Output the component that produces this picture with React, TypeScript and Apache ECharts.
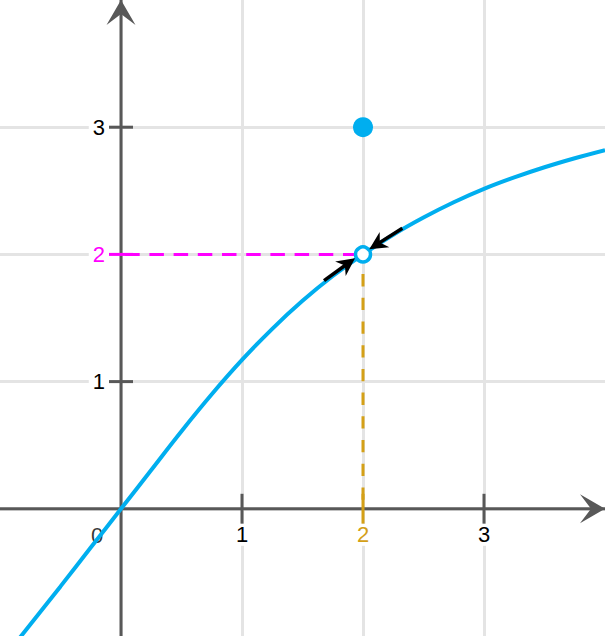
import React, { useEffect, useRef } from 'react';
import * as echarts from 'echarts';

// ---- data ----
const xRange = [-1, 4];
const yRange = [-1, 4];
const curveX = [-0.85, -0.5, -0.25, 0, 0.25, 0.5, 0.75, 1, 1.25, 1.5, 1.75, 2, 2.25, 2.5, 2.75, 3, 3.25, 3.5, 3.75, 4];
const curveY = [-1.03, -0.61, -0.305, 0, 0.305, 0.61, 0.9, 1.17, 1.415, 1.635, 1.83, 2.0, 2.155, 2.29, 2.41, 2.515, 2.605, 2.685, 2.756, 2.82];
const xTickValues = [1, 2, 3];
const xTickLabels = ['1', '2', '3'];
const yTickValues = [1, 2, 3];
const yTickLabels = ['1', '2', '3'];
const originLabel = '0';
const holePoint = [2, 2];
const filledPoint = [2, 3];
const arrowTails = [[1.678, 1.794], [2.325, 2.206]];
const arrowTips = [[1.934, 1.97], [2.052, 2.041]];

// ---- style ----
const W = 605;
const H = 636;
const BLUE = '#00aeef';
const AXIS = '#585858';
const GRID = '#e4e4e4';
const ORANGE = '#d4a017';
const MAGENTA = '#ff00ff';
const FONT = 'Liberation Sans, Arial, sans-serif';
const FONT_SIZE = 22;
const AXIS_HEAD = 'path://M0,0L14.5,25L0,14L-14.5,25Z';
const SMALL_HEAD = 'path://M0,0L9,18L0,12.5L-9,18Z';
const SMALL_HEAD_SIZE = 18;

function buildOption() {
  const pxX = W / (xRange[1] - xRange[0]);
  const pxY = H / (yRange[1] - yRange[0]);
  const shorten = (tail: number[], tip: number[], px: number) => {
    const dx = (tip[0] - tail[0]) * pxX;
    const dy = (tip[1] - tail[1]) * pxY;
    const len = Math.hypot(dx, dy);
    return [tip[0] - (dx / len) * px / pxX, tip[1] - (dy / len) * px / pxY];
  };
  const highlightX = holePoint[0];
  const highlightY = holePoint[1];

  const axisCommon = {
    type: 'value',
    interval: 1,
    axisLine: { show: false },
    axisTick: { show: false },
    axisLabel: { show: false },
    splitLine: {
      show: true,
      showMinLine: false,
      showMaxLine: false,
      lineStyle: { color: GRID, width: 3 },
    },
  };

  return {
    animation: false,
    grid: { left: 0, right: 0, top: 0, bottom: 0, containLabel: false },
    xAxis: { ...axisCommon, min: xRange[0], max: xRange[1] },
    yAxis: { ...axisCommon, min: yRange[0], max: yRange[1] },
    series: [
      {
        type: 'line',
        silent: true,
        data: [[xRange[0], 0], [xRange[1], 0]],
        showSymbol: false,
        lineStyle: { color: AXIS, width: 3 },
        z: 2,
      },
      {
        type: 'line',
        silent: true,
        data: [[0, yRange[0]], [0, yRange[1]]],
        showSymbol: false,
        lineStyle: { color: AXIS, width: 3 },
        z: 2,
      },
      {
        type: 'scatter',
        silent: true,
        clip: false,
        symbol: AXIS_HEAD,
        symbolSize: [29, 25],
        itemStyle: { color: AXIS, opacity: 1 },
        data: [
          { value: [xRange[1], 0], symbolRotate: -90, symbolOffset: [-12.5, 0] },
          { value: [0, yRange[1]], symbolRotate: 0, symbolOffset: [0, 12.5] },
        ],
        z: 2,
      },
      {
        type: 'line',
        silent: true,
        data: [[0, highlightY], [highlightX, highlightY]],
        showSymbol: false,
        lineStyle: { color: MAGENTA, width: 3, type: [14.5, 9.7], dashOffset: 19.5 },
        z: 3,
      },
      {
        type: 'line',
        silent: true,
        data: [[highlightX, highlightY], [highlightX, 0]],
        showSymbol: false,
        lineStyle: { color: ORANGE, width: 3, type: [12.3, 11.4], dashOffset: 4.4 },
        z: 3,
      },
      {
        type: 'scatter',
        silent: true,
        clip: false,
        symbol: 'rect',
        symbolSize: [3, 30],
        data: xTickValues.map((v) => ({
          value: [v, 0],
          itemStyle: { color: v === highlightX ? ORANGE : AXIS, opacity: 1 },
          label: { color: v === highlightX ? ORANGE : '#000' },
        })),
        label: {
          show: true,
          position: 'bottom',
          distance: 0,
          formatter: (p: any) => xTickLabels[p.dataIndex],
          fontSize: FONT_SIZE,
          fontFamily: FONT,
          backgroundColor: '#fff',
          padding: [0, 3],
        },
        z: 4,
      },
      {
        type: 'scatter',
        silent: true,
        clip: false,
        symbol: 'rect',
        symbolSize: [24, 3],
        data: yTickValues.map((v) => ({
          value: [0, v],
          itemStyle: { color: v === highlightY ? MAGENTA : AXIS, opacity: 1 },
          label: { color: v === highlightY ? MAGENTA : '#000' },
        })),
        label: {
          show: true,
          position: 'left',
          distance: 0,
          formatter: (p: any) => yTickLabels[p.dataIndex],
          fontSize: FONT_SIZE,
          fontFamily: FONT,
          backgroundColor: '#fff',
          padding: [2, 4],
        },
        z: 4,
      },
      {
        type: 'scatter',
        silent: true,
        clip: false,
        symbol: 'circle',
        symbolSize: 1,
        itemStyle: { color: 'rgba(0,0,0,0)' },
        data: [[0, 0]],
        label: {
          show: true,
          position: 'inside',
          offset: [-24, 27],
          formatter: originLabel,
          fontSize: FONT_SIZE,
          fontFamily: FONT,
          color: '#000',
        },
        z: 4,
      },
      {
        type: 'line',
        silent: true,
        data: curveX.map((x, i) => [x, curveY[i]]),
        smooth: 0.4,
        showSymbol: false,
        lineStyle: { color: BLUE, width: 4 },
        z: 5,
      },
      {
        type: 'scatter',
        silent: true,
        symbol: 'circle',
        symbolSize: 15,
        itemStyle: { color: '#fff', borderColor: BLUE, borderWidth: 3.5, opacity: 1 },
        data: [holePoint],
        z: 6,
      },
      {
        type: 'scatter',
        silent: true,
        symbol: 'circle',
        symbolSize: 20,
        itemStyle: { color: BLUE, opacity: 1 },
        data: [filledPoint],
        z: 6,
      },
      {
        type: 'lines',
        silent: true,
        coordinateSystem: 'cartesian2d',
        symbol: ['none', SMALL_HEAD],
        symbolSize: SMALL_HEAD_SIZE,
        lineStyle: { color: '#000', width: 3.5, opacity: 1, curveness: 0 },
        itemStyle: { color: '#000' },
        data: arrowTails.map((t, i) => ({ coords: [t, shorten(t, arrowTips[i], SMALL_HEAD_SIZE / 2)] })),
        z: 7,
      },
    ],
  };
}

export default function App() {
  const ref = useRef<HTMLDivElement>(null);
  useEffect(() => {
    if (!ref.current) return;
    const chart = echarts.init(ref.current, undefined, { renderer: 'svg' });
    chart.setOption(buildOption() as any);
    return () => chart.dispose();
  }, []);
  return (
    <div
      ref={ref}
      style={{ position: 'fixed', left: 0, top: 0, width: W, height: H, background: '#fff' }}
    />
  );
}
